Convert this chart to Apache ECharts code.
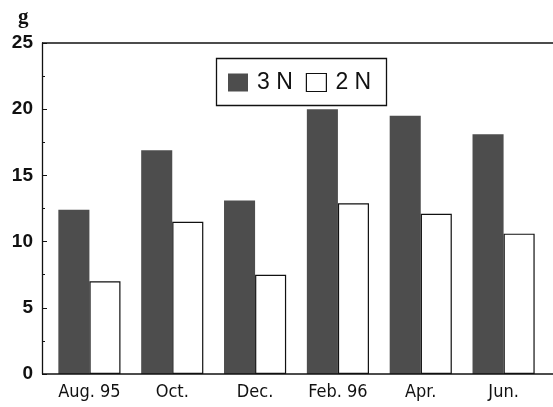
<!DOCTYPE html>
<html><head><meta charset="utf-8">
<script src="https://cdn.jsdelivr.net/npm/echarts@6/dist/echarts.min.js"></script>
<style>html,body{margin:0;padding:0;background:#fff}#c{width:553px;height:407px}</style>
</head><body><div id="c"></div>
<script>
const categories = ['Aug. 95', 'Oct.', 'Dec.', 'Feb. 96', 'Apr.', 'Jun.'];
const series3N = [12.4, 16.9, 13.1, 20.0, 19.5, 18.1];
const series2N = [7.0, 11.5, 7.5, 12.9, 12.1, 10.6];
const yTicks = [0, 5, 10, 15, 20, 25];

const chart = echarts.init(document.getElementById('c'));
chart.setOption({
  animation: false,
  backgroundColor: '#fff',
  title: {
    text: 'g', left: 13, top: 2,
    textStyle: {fontFamily: 'Liberation Serif', fontWeight: 'bold', fontSize: 21, color: '#111'}
  },
  graphic: [
    {type: 'rect', left: 214, top: 56, shape: {width: 170, height: 47},
     style: {fill: 'none', stroke: '#111', lineWidth: 1.3}, z: 10},
    {type: 'line', shape: {x1: 42, y1: 43, x2: 553, y2: 43}, style: {stroke: '#111', lineWidth: 1.3}, z: 10},
    {type: 'line', shape: {x1: 42, y1: 374, x2: 553, y2: 374}, style: {stroke: '#111', lineWidth: 1.3}, z: 10}
  ],
  legend: {
    left: 228, top: 71, padding: 0,
    itemWidth: 20, itemHeight: 18, itemGap: 13,
    textStyle: {fontFamily: 'Liberation Sans', fontSize: 23, color: '#111', padding: [0, 0, 0, 4]},
    data: [
      {name: '3 N', icon: 'rect', itemStyle: {color: '#4d4d4d', borderWidth: 0}},
      {name: '2 N', icon: 'rect', itemStyle: {color: '#fff', borderColor: '#111', borderWidth: 1.2}}
    ]
  },
  grid: {left: 48, right: 8, top: 43, bottom: 33},
  xAxis: {
    type: 'category', data: categories, position: 'bottom',
    axisLine: {show: false},
    axisTick: {show: false},
    axisLabel: {fontFamily: 'DejaVu Sans Condensed', fontSize: 18, color: '#111', margin: 9}
  },
  yAxis: {
    type: 'value', min: 0, max: 25, interval: 5, offset: 6,
    axisLine: {show: true, lineStyle: {color: '#111', width: 1.3}},
    axisTick: {show: true, inside: true, length: 5, lineStyle: {color: '#111'}},
    minorTick: {show: true, splitNumber: 2, length: 3, lineStyle: {color: '#111'}},
    splitLine: {show: false},
    axisLabel: {
      fontFamily: 'Liberation Sans', fontWeight: 'bold', fontSize: 19, color: '#111', margin: 9,
      formatter: v => yTicks.includes(v) ? String(v) : ''
    }
  },
  series: [{
    name: '3 N', type: 'bar', data: series3N, barGap: '0%', barCategoryGap: '25%',
    itemStyle: {color: '#4d4d4d'}
  }, {
    name: '2 N', type: 'bar', data: series2N,
    itemStyle: {color: '#fff', borderColor: '#111', borderWidth: 1.2}
  }]
});
</script></body></html>
